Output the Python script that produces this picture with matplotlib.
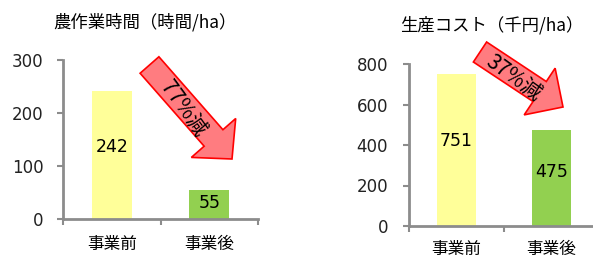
import matplotlib.pyplot as plt
from matplotlib.patches import FancyArrow
from matplotlib.transforms import Affine2D

plt.rcParams['font.family'] = ['DejaVu Sans', 'Noto Sans CJK JP']

categories = ["事業前", "事業後"]
hours = [242, 55]
costs = [751, 475]
bar_colors = ["#FFFF99", "#92D050"]
GRAY = "#8C8C8C"

W, H = 593, 259
fig = plt.figure(figsize=(W / 100, H / 100), dpi=100)

# pixel coords (origin top-left) -> figure
px = Affine2D().scale(1, -1).translate(0, H).scale(1 / 100) + fig.dpi_scale_trans


def axes_px(x0, y0, x1, y1):
    return fig.add_axes([x0 / W, 1 - y1 / H, (x1 - x0) / W, (y1 - y0) / H])


def bar_chart(ax, values, ymax, step, tick_fs, tick_pad, cat_pad):
    x = range(len(values))
    ax.bar(x, values, width=0.41, color=bar_colors)
    for i, v in enumerate(values):
        ax.text(i, v * 0.56, str(v), ha="center", va="center", fontsize=12.5,
                family="DejaVu Sans")
    ax.set_xlim(-0.5, 1.5)
    ax.set_ylim(0, ymax)
    ax.set_yticks(range(0, ymax + 1, step))
    ax.set_xticks([-0.5, 0.5, 1.5])
    ax.set_xticklabels([])
    ax.set_xticks([0, 1], minor=True)
    ax.set_xticklabels(categories, minor=True, fontsize=12,
                       family=["Noto Sans CJK JP"])
    ax.tick_params(axis="x", which="minor", length=0, pad=cat_pad)
    ax.tick_params(axis="x", which="major", length=4, width=1.5, color=GRAY)
    ax.tick_params(axis="y", length=4, width=1.5, color=GRAY,
                   labelsize=tick_fs, pad=tick_pad, labelcolor="#222222")
    for s in ["top", "right"]:
        ax.spines[s].set_visible(False)
    for s in ["left", "bottom"]:
        ax.spines[s].set_color(GRAY)
        ax.spines[s].set_linewidth(2)
    ax.patch.set_alpha(0)


ax1 = axes_px(63, 60, 258, 219)
bar_chart(ax1, hours, 300, 100, 12, 10, 12.5)
ax2 = axes_px(409, 64, 599, 226)
bar_chart(ax2, costs, 800, 200, 12, 11, 10.5)

fig.text(145 / W, 1 - 22 / H, "農作業時間（時間/ha）", ha="center", va="center",
         fontsize=12.5, family=["Noto Sans CJK JP"])
fig.text(492 / W, 1 - 25 / H, "生産コスト（千円/ha）", ha="center", va="center",
         fontsize=12.5, family=["Noto Sans CJK JP"])


def arrow(tail, tip, width, head_w, head_l, label, label_xy, rot):
    a = FancyArrow(tail[0], tail[1], tip[0] - tail[0], tip[1] - tail[1],
                   width=width, head_width=head_w, head_length=head_l,
                   length_includes_head=True, transform=px,
                   facecolor="#FF7C80", edgecolor="#FF0000", linewidth=1.2,
                   zorder=5)
    fig.add_artist(a)
    fig.text(label_xy[0], label_xy[1], label, transform=px, rotation=rot,
             rotation_mode="anchor", ha="center", va="center", fontsize=15,
             family=["Noto Sans CJK JP"], zorder=6)


arrow((149.5, 65), (232, 159), 25, 59, 28, "77%減", (183, 109), -54)
arrow((480, 52), (563, 107), 24, 56, 28, "37%減", (514, 78), -36)

fig.savefig("out.png", dpi=100)
